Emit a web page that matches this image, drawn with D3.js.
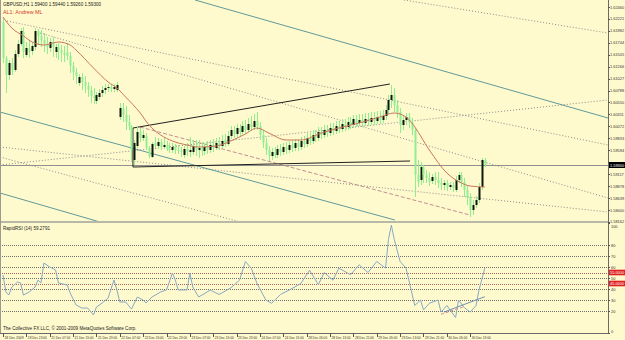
<!DOCTYPE html>
<html><head><meta charset="utf-8">
<script src="https://cdn.jsdelivr.net/npm/d3@7"></script>
<style>body{margin:0;background:#fff}svg{display:block}text{font-family:"Liberation Sans",Arial,sans-serif}</style>
</head><body><svg id="c" width="625" height="340"></svg>
<script>
const title = "GBPUSD,H1  1.59400 1.59440 1.59260 1.59300";
const subtitle = "AL1: Andrew ML";
const rsiTitle = "RapidRSI (14) 59.2791";
const copyright = "The Collective FX LLC, \u00a9 2001-2009 MetaQuotes Software Corp.";
const timeLabels = ["18 Dec 2009","18 Dec 23:00","21 Dec 07:00","21 Dec 15:00","21 Dec 23:00","22 Dec 07:00","22 Dec 15:00","22 Dec 23:00","23 Dec 07:00","23 Dec 15:00","23 Dec 23:00","24 Dec 07:00","24 Dec 15:00","28 Dec 05:00","28 Dec 13:00","28 Dec 21:00","29 Dec 05:00","29 Dec 13:00","29 Dec 21:00","30 Dec 05:00","30 Dec 13:00"];
const labelBars = [0,8,16,24,32,40,48,56,64,72,80,88,96,104,112,120,128,136,144,152,160];
const open = [1.6216,1.6144,1.6110,1.6134,1.6120,1.6152,1.6172,1.6196,1.6150,1.6164,1.6158,1.6166,1.6198,1.6188,1.6180,1.6172,1.6164,1.6176,1.6156,1.6166,1.6160,1.6154,1.6156,1.6148,1.6128,1.6116,1.6094,1.6106,1.6096,1.6088,1.6080,1.6068,1.6058,1.6066,1.6074,1.6080,1.6084,1.6086,1.6082,1.6080,1.6026,1.6044,1.6030,1.6016,1.6008,1.5940,1.5968,1.5996,1.5984,1.5988,1.5964,1.5946,1.5974,1.5968,1.5976,1.5966,1.5970,1.5962,1.5960,1.5966,1.5960,1.5958,1.5950,1.5962,1.5956,1.5956,1.5968,1.5960,1.5964,1.5958,1.5966,1.5960,1.5970,1.5964,1.5974,1.5968,1.5978,1.5972,1.5988,1.6000,1.5992,1.6004,1.5996,1.6008,1.6000,1.6012,1.6006,1.6018,1.6008,1.5990,1.5974,1.5960,1.5948,1.5956,1.5950,1.5962,1.5956,1.5966,1.5960,1.5970,1.5964,1.5974,1.5966,1.5978,1.5972,1.5984,1.5978,1.5990,1.5984,1.5996,1.5990,1.6000,1.5994,1.6004,1.5998,1.6008,1.6002,1.6012,1.6006,1.6016,1.6010,1.6022,1.6014,1.6020,1.6014,1.6022,1.6016,1.6024,1.6018,1.6026,1.6020,1.6028,1.6040,1.6060,1.6070,1.6050,1.6036,1.6010,1.6020,1.6026,1.6016,1.6000,1.5910,1.5900,1.5926,1.5910,1.5904,1.5898,1.5906,1.5900,1.5894,1.5890,1.5894,1.5886,1.5890,1.5880,1.5900,1.5910,1.5896,1.5880,1.5866,1.5840,1.5850,1.5860,1.5886,1.5940];
const high = [1.6224,1.6148,1.6140,1.6144,1.6160,1.6180,1.6204,1.6206,1.6176,1.6180,1.6176,1.6204,1.6202,1.6200,1.6194,1.6186,1.6184,1.6186,1.6172,1.6174,1.6170,1.6168,1.6174,1.6156,1.6136,1.6124,1.6112,1.6114,1.6108,1.6096,1.6088,1.6084,1.6076,1.6082,1.6088,1.6092,1.6092,1.6092,1.6092,1.6096,1.6054,1.6054,1.6048,1.6030,1.6010,1.5980,1.6006,1.6004,1.6000,1.5994,1.5968,1.5976,1.5986,1.5984,1.5982,1.5986,1.5978,1.5974,1.5974,1.5972,1.5970,1.5966,1.5968,1.5974,1.5986,1.5980,1.5980,1.5980,1.5976,1.5974,1.5978,1.5980,1.5982,1.5984,1.5986,1.5990,1.5992,1.5998,1.6008,1.6008,1.6012,1.6012,1.6018,1.6020,1.6024,1.6028,1.6032,1.6036,1.6016,1.6000,1.5984,1.5968,1.5964,1.5966,1.5970,1.5972,1.5974,1.5976,1.5978,1.5980,1.5982,1.5982,1.5986,1.5988,1.5994,1.5994,1.6000,1.6000,1.6006,1.6006,1.6010,1.6010,1.6014,1.6014,1.6018,1.6018,1.6022,1.6022,1.6026,1.6026,1.6030,1.6030,1.6032,1.6032,1.6034,1.6034,1.6036,1.6036,1.6038,1.6038,1.6040,1.6050,1.6070,1.6090,1.6084,1.6060,1.6044,1.6030,1.6034,1.6034,1.6024,1.6004,1.5940,1.5936,1.5930,1.5920,1.5916,1.5912,1.5916,1.5916,1.5904,1.5900,1.5900,1.5896,1.5896,1.5908,1.5916,1.5916,1.5904,1.5888,1.5874,1.5860,1.5868,1.5894,1.5944,1.5944];
const low = [1.6134,1.6074,1.6100,1.6110,1.6116,1.6146,1.6168,1.6144,1.6146,1.6144,1.6150,1.6160,1.6170,1.6166,1.6156,1.6152,1.6156,1.6146,1.6144,1.6140,1.6136,1.6136,1.6140,1.6114,1.6100,1.6092,1.6088,1.6080,1.6074,1.6066,1.6054,1.6052,1.6052,1.6060,1.6066,1.6072,1.6076,1.6076,1.6076,1.6076,1.6020,1.6016,1.6000,1.6000,1.5940,1.5930,1.5964,1.5976,1.5978,1.5960,1.5944,1.5944,1.5964,1.5962,1.5960,1.5962,1.5958,1.5954,1.5954,1.5952,1.5952,1.5946,1.5944,1.5948,1.5946,1.5950,1.5948,1.5944,1.5948,1.5950,1.5952,1.5954,1.5956,1.5960,1.5960,1.5964,1.5966,1.5968,1.5982,1.5984,1.5986,1.5988,1.5992,1.5992,1.5996,1.5998,1.6000,1.6000,1.5980,1.5964,1.5950,1.5938,1.5940,1.5944,1.5944,1.5948,1.5950,1.5952,1.5954,1.5956,1.5958,1.5958,1.5960,1.5964,1.5966,1.5970,1.5972,1.5976,1.5978,1.5982,1.5984,1.5986,1.5988,1.5990,1.5992,1.5994,1.5996,1.5998,1.6000,1.6002,1.6004,1.6006,1.6008,1.6006,1.6008,1.6008,1.6010,1.6010,1.6012,1.6012,1.6014,1.6020,1.6032,1.6044,1.6036,1.6024,1.5994,1.6000,1.6010,1.6004,1.5990,1.5866,1.5886,1.5890,1.5894,1.5894,1.5888,1.5892,1.5890,1.5884,1.5880,1.5880,1.5878,1.5880,1.5876,1.5876,1.5894,1.5886,1.5866,1.5850,1.5826,1.5830,1.5844,1.5854,1.5880,1.5926];
const close = [1.6144,1.6110,1.6134,1.6120,1.6152,1.6172,1.6198,1.6156,1.6164,1.6156,1.6168,1.6198,1.6188,1.6180,1.6172,1.6166,1.6176,1.6166,1.6166,1.6160,1.6154,1.6150,1.6148,1.6128,1.6116,1.6108,1.6106,1.6096,1.6088,1.6080,1.6068,1.6064,1.6070,1.6074,1.6080,1.6084,1.6086,1.6082,1.6086,1.6090,1.6044,1.6030,1.6016,1.6008,1.5960,1.5974,1.5996,1.5984,1.5990,1.5964,1.5948,1.5972,1.5968,1.5976,1.5966,1.5970,1.5962,1.5960,1.5966,1.5960,1.5958,1.5956,1.5962,1.5956,1.5960,1.5968,1.5960,1.5964,1.5958,1.5966,1.5960,1.5970,1.5964,1.5974,1.5968,1.5978,1.5972,1.5988,1.6000,1.5992,1.6004,1.5996,1.6008,1.6000,1.6012,1.6006,1.6018,1.6008,1.5990,1.5974,1.5960,1.5948,1.5956,1.5950,1.5962,1.5956,1.5966,1.5960,1.5970,1.5964,1.5974,1.5966,1.5978,1.5972,1.5984,1.5978,1.5990,1.5984,1.5996,1.5990,1.6000,1.5994,1.6004,1.5998,1.6008,1.6002,1.6012,1.6006,1.6016,1.6010,1.6022,1.6014,1.6020,1.6014,1.6022,1.6016,1.6024,1.6018,1.6026,1.6020,1.6028,1.6040,1.6060,1.6070,1.6050,1.6036,1.6010,1.6020,1.6026,1.6016,1.6000,1.5910,1.5896,1.5926,1.5910,1.5904,1.5896,1.5906,1.5900,1.5894,1.5890,1.5894,1.5886,1.5890,1.5884,1.5900,1.5910,1.5896,1.5880,1.5866,1.5840,1.5850,1.5860,1.5886,1.5940,1.5930];
const priceTicks = [1.62460,1.62221,1.61982,1.61744,1.61505,1.61266,1.61027,1.60788,1.60550,1.60311,1.60072,1.59833,1.59594,1.59356,1.59117,1.58878,1.58639,1.58400,1.58162];
const maBars = [0,3,7,10,14,19,23,25,31,36,39,42,47,50,54,58,63,67,73,78,83,87,91,97,102,109,115,122,129,134,138,140,146,152,157,160,165];
const maVals = [1.6226,1.6204,1.6188,1.6176,1.6170,1.6176,1.6170,1.6160,1.6124,1.6096,1.6084,1.6066,1.6034,1.6010,1.5990,1.5978,1.5970,1.5966,1.5968,1.5978,1.5992,1.6004,1.5994,1.5980,1.5980,1.5994,1.6004,1.6014,1.6026,1.6034,1.6026,1.6014,1.5960,1.5914,1.5894,1.5888,1.5886];
const rsiBars = [0,1,2,3,5,6,7,9,11,12,13,14,16,18,19,22,23,25,27,29,31,32,34,36,38,39,40,42,44,46,48,49,51,54,56,58,59,60,63,64,65,67,71,74,78,81,83,85,87,90,92,95,98,102,105,108,110,113,115,119,122,125,128,131,132,133,134,136,138,139,141,143,144,146,149,150,152,155,156,158,160,162,163,165];
const rsiVals = [52.7,37.3,34.5,41.8,46.4,45.5,34.5,37.3,41.8,48.2,45.5,63.6,60,57.3,45.5,43.6,36.4,25.5,22.7,22.7,16.4,23.6,27.3,31.8,48.2,39.1,28.2,28.2,21.8,32.7,30,27.3,32.7,37.3,39.1,54.5,48.2,39.1,39.1,54.5,41.8,32.7,39,35,41,48,65,59,45,30,27,35,39,45,57,44,55,48,59,53,62,55,65,59,85,98,85,65,59,48,25,30,21,27,30,19,25,14,30,23,19,25,39,59];
const rsiLevels = [80,70,60,55,50,45,40,30,20];
const rsiTickLabels = [100,80,70,60,50,40,30,20,0];
const rsiBoxLevels = [55,45];
// trendlines: [bar1, price1, bar2, price2]
const dotLines = [[1.37,1.6218,207.2,1.5970],[12.67,1.6194,207.2,1.5864],[137.3,1.6260,207.2,1.6194],[-1.03,1.5930,207.2,1.6060],[-1.03,1.5966,207.2,1.5836],[-1.03,1.5946,81.2,1.5816]];
const channelLines = [[65.75,1.6260,207.2,1.6024],[-1.03,1.6036,134.2,1.5820],[-1.03,1.5874,33.2,1.5816]];
const triangleLines = [[44.5,1.6004,132.5,1.6092],[44.5,1.5926,139.4,1.5938],[44.5,1.6004,44.5,1.5926]];
const dashedLines = [[46.9,1.6006,159.9,1.5830]];
const rsiTrend = [[151,19,165,33]];
const rsiDashed = [[150,17,158,24]];

const W=625,H=340, R=608, MB=221, RT=223, RB=333;
const svg=d3.select("#c");
svg.append("rect").attr("width",W).attr("height",H).attr("fill","#fffacd");
const x=d3.scaleLinear().domain([0,207.19]).range([3,608]);
const y=d3.scaleLinear().domain([1.5816,1.6260]).range([222,0]);
const yr=d3.scaleLinear().domain([0,100]).range([RB,RT]);
const defs=svg.append("defs");
defs.append("clipPath").attr("id","cm").append("rect").attr("x",0).attr("y",0).attr("width",R).attr("height",MB);
defs.append("clipPath").attr("id","cr").append("rect").attr("x",0).attr("y",RT).attr("width",R).attr("height",RB-RT);
const gm=svg.append("g").attr("clip-path","url(#cm)");
const gr=svg.append("g").attr("clip-path","url(#cr)");

function seg(g,arr,sy,stroke,dash,w){
  g.selectAll(null).data(arr).enter().append("line")
   .attr("x1",d=>x(d[0])).attr("y1",d=>sy(d[1])).attr("x2",d=>x(d[2])).attr("y2",d=>sy(d[3]))
   .attr("stroke",stroke).attr("stroke-width",w||1).attr("stroke-dasharray",dash||null);
}
const last=close[close.length-1];
gm.append("line").attr("x1",0).attr("x2",R).attr("y1",Math.round(y(last))+0.5).attr("y2",Math.round(y(last))+0.5).attr("stroke","#909090");
seg(gm,dotLines,y,"#8a8a8a","1,2");
seg(gm,channelLines,y,"#5f9a9a",null,1);
seg(gm,dashedLines,y,"#c09090","4,2");
seg(gm,triangleLines,y,"#202020",null,1);

const idx=d3.range(open.length);
gm.selectAll(".wk").data(idx).enter().append("line")
  .attr("x1",i=>Math.round(x(i))+0.5).attr("x2",i=>Math.round(x(i))+0.5)
  .attr("y1",i=>y(high[i])).attr("y2",i=>y(low[i])).attr("stroke","#90ee90");
gm.selectAll(".bd").data(idx).enter().append("rect")
  .attr("x",i=>Math.round(x(i))-0.5).attr("width",2)
  .attr("y",i=>y(Math.max(open[i],close[i])))
  .attr("height",i=>Math.max(1,Math.abs(y(open[i])-y(close[i]))))
  .attr("fill",i=>close[i]>open[i]?"#0a1a0a":"#90ee90");
gm.append("path").datum(maBars.map((b,k)=>[b,maVals[k]]))
  .attr("d",d3.line().x(d=>x(d[0])).y(d=>y(d[1])).curve(d3.curveMonotoneX))
  .attr("fill","none").attr("stroke","#c8765a").attr("stroke-width",1);

svg.append("line").attr("x1",R+0.5).attr("x2",R+0.5).attr("y1",0).attr("y2",RB).attr("stroke","#6a6a6a");
svg.append("rect").attr("x",0).attr("y",MB).attr("width",R).attr("height",2).attr("fill","#b8b8a8");
svg.append("line").attr("x1",0).attr("x2",R+1).attr("y1",RB+0.5).attr("y2",RB+0.5).attr("stroke","#6a6a6a");
svg.append("line").attr("x1",0.5).attr("x2",0.5).attr("y1",0).attr("y2",RB).attr("stroke","#9a9a90");

const fs=3.9, lx=R+2;
const pa=svg.append("g");
pa.selectAll("line").data(priceTicks).enter().append("line")
  .attr("x1",R).attr("x2",R+2).attr("y1",d=>Math.round(y(d))+0.5).attr("y2",d=>Math.round(y(d))+0.5).attr("stroke","#555");
pa.selectAll("text").data(priceTicks.filter(d=>Math.abs(y(d)-y(last))>4)).enter().append("text")
  .attr("x",lx).attr("y",d=>y(d)+1.5).attr("font-size",fs).attr("fill","#333").text(d=>d.toFixed(5));
pa.append("rect").attr("x",R+1).attr("y",y(last)-3).attr("width",W-R-1).attr("height",6).attr("fill","#000");
pa.append("text").attr("x",lx).attr("y",y(last)+1.5).attr("font-size",fs).attr("fill","#fff").text(last.toFixed(5));

svg.append("text").attr("x",3).attr("y",5.5).attr("font-size",4.6).attr("fill","#222").text(title);
svg.append("text").attr("x",3).attr("y",13.5).attr("font-size",5.4).attr("fill","#d03a2a").text(subtitle);

gr.selectAll(".lv").data(rsiLevels).enter().append("line")
  .attr("x1",0).attr("x2",R).attr("y1",d=>Math.round(yr(d))+0.5).attr("y2",d=>Math.round(yr(d))+0.5)
  .attr("stroke",d=>rsiBoxLevels.includes(d)?"#b06060":"#707070").attr("stroke-dasharray","1,1");
gr.append("path").datum(rsiBars.map((b,k)=>[b,rsiVals[k]]))
  .attr("d",d3.line().x(d=>x(d[0])).y(d=>yr(d[1])))
  .attr("fill","none").attr("stroke","#86a9c6").attr("stroke-width",1);
seg(gr,rsiTrend,yr,"#6f8fb5",null,1);
seg(gr,rsiDashed,yr,"#d09090","3,2",1);
svg.append("text").attr("x",3).attr("y",229.5).attr("font-size",4.6).attr("fill","#222").text(rsiTitle);
svg.append("text").attr("x",3).attr("y",330).attr("font-size",4.6).attr("fill","#222").text(copyright);
const ra=svg.append("g");
ra.selectAll("line").data(rsiTickLabels).enter().append("line")
  .attr("x1",R).attr("x2",R+2).attr("y1",d=>Math.round(yr(d))+0.5).attr("y2",d=>Math.round(yr(d))+0.5).attr("stroke","#555");
ra.selectAll("text").data(rsiTickLabels).enter().append("text")
  .attr("x",lx+1).attr("y",d=>d===100?yr(d)+4.5:(d===0?yr(d)-0.5:yr(d)+1.5)).attr("font-size",fs).attr("fill","#333").text(d=>d);
ra.selectAll("rect.bx").data(rsiBoxLevels).enter().append("rect")
  .attr("x",R+1).attr("y",d=>yr(d)-2.8).attr("width",W-R-1).attr("height",5.6).attr("fill","#e02020");
ra.selectAll("text.bx").data(rsiBoxLevels).enter().append("text")
  .attr("x",lx).attr("y",d=>yr(d)+1.5).attr("font-size",fs).attr("fill","#fff").text(d=>d.toFixed(4));

const ta=svg.append("g");
ta.selectAll("line").data(labelBars).enter().append("line")
  .attr("x1",b=>Math.round(x(b))+0.5).attr("x2",b=>Math.round(x(b))+0.5).attr("y1",RB).attr("y2",RB+4).attr("stroke","#555");
ta.selectAll("text").data(labelBars).enter().append("text")
  .attr("x",b=>x(b)+1.5).attr("y",338.5).attr("font-size",4.2).attr("fill","#333")
  .attr("textLength",19).attr("lengthAdjust","spacingAndGlyphs").text((b,k)=>timeLabels[k]);
</script></body></html>
